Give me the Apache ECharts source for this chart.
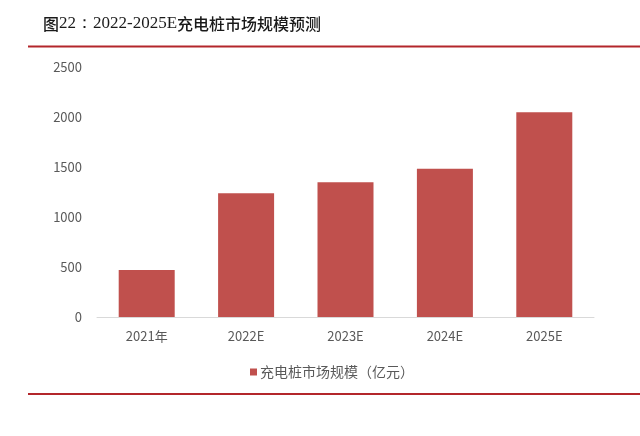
<!DOCTYPE html>
<html>
<head>
<meta charset="utf-8">
<script src="https://cdn.jsdelivr.net/npm/echarts@6/dist/echarts.min.js"></script>
<style>
html,body{margin:0;padding:0;background:#fff;}
#c{width:640px;height:436px;}
</style>
</head>
<body>
<div id="c"></div>
<script>
const categories = ['2021年', '2022E', '2023E', '2024E', '2025E'];
const marketSize = [470, 1237, 1347, 1483, 2047];
const yTicks = [0, 500, 1000, 1500, 2000, 2500];
const seriesName = '充电桩市场规模（亿元）';
const titleLatin1 = '22：2022-2025E';

const chart = echarts.init(document.getElementById('c'), null, {renderer: 'canvas'});
chart.setOption({
  animation: false,
  backgroundColor: '#ffffff',
  title: {
    text: '{c|图}{l|' + titleLatin1 + '}{c|充电桩市场规模预测}',
    left: 38, top: 10,
    textStyle: {
      fontWeight: 'normal',
      rich: {
        c: {fontFamily: 'Noto Sans CJK SC', fontSize: 16, fontWeight: 500, color: '#1a1a1a'},
        l: {fontFamily: 'Liberation Serif', fontSize: 17, fontWeight: 'normal', color: '#1a1a1a'}
      }
    }
  },
  grid: {left: 97, right: 46, top: 67, bottom: 119, containLabel: false},
  legend: {
    data: [seriesName],
    left: 245, top: 360,
    icon: 'rect', itemWidth: 7, itemHeight: 7, itemGap: 4,
    textStyle: {fontFamily: 'Noto Sans CJK SC', fontSize: 14, color: '#595959', padding: [0, 0, 0, -2]}
  },
  xAxis: {
    type: 'category',
    data: categories,
    axisLine: {lineStyle: {color: '#d9d9d9', width: 1}},
    axisTick: {show: false},
    axisLabel: {color: '#595959', fontSize: 13, fontFamily: 'Noto Sans CJK SC', margin: 13}
  },
  yAxis: {
    type: 'value',
    min: yTicks[0], max: yTicks[yTicks.length - 1], interval: yTicks[1] - yTicks[0],
    axisLine: {show: false},
    axisTick: {show: false},
    splitLine: {show: false},
    axisLabel: {color: '#595959', fontSize: 13, fontFamily: 'Noto Sans CJK SC', margin: 15,
      formatter: function (v) { return String(v); }}
  },
  series: [{
    name: seriesName,
    type: 'bar',
    data: marketSize,
    barWidth: 56,
    itemStyle: {color: '#C0504D'}
  }],
  graphic: [
    {type: 'rect', shape: {x: 28, y: 45.5, width: 612, height: 2}, style: {fill: '#b3262b'}},
    {type: 'rect', shape: {x: 28, y: 393, width: 612, height: 2}, style: {fill: '#b3262b'}}
  ]
});
</script>
</body>
</html>
